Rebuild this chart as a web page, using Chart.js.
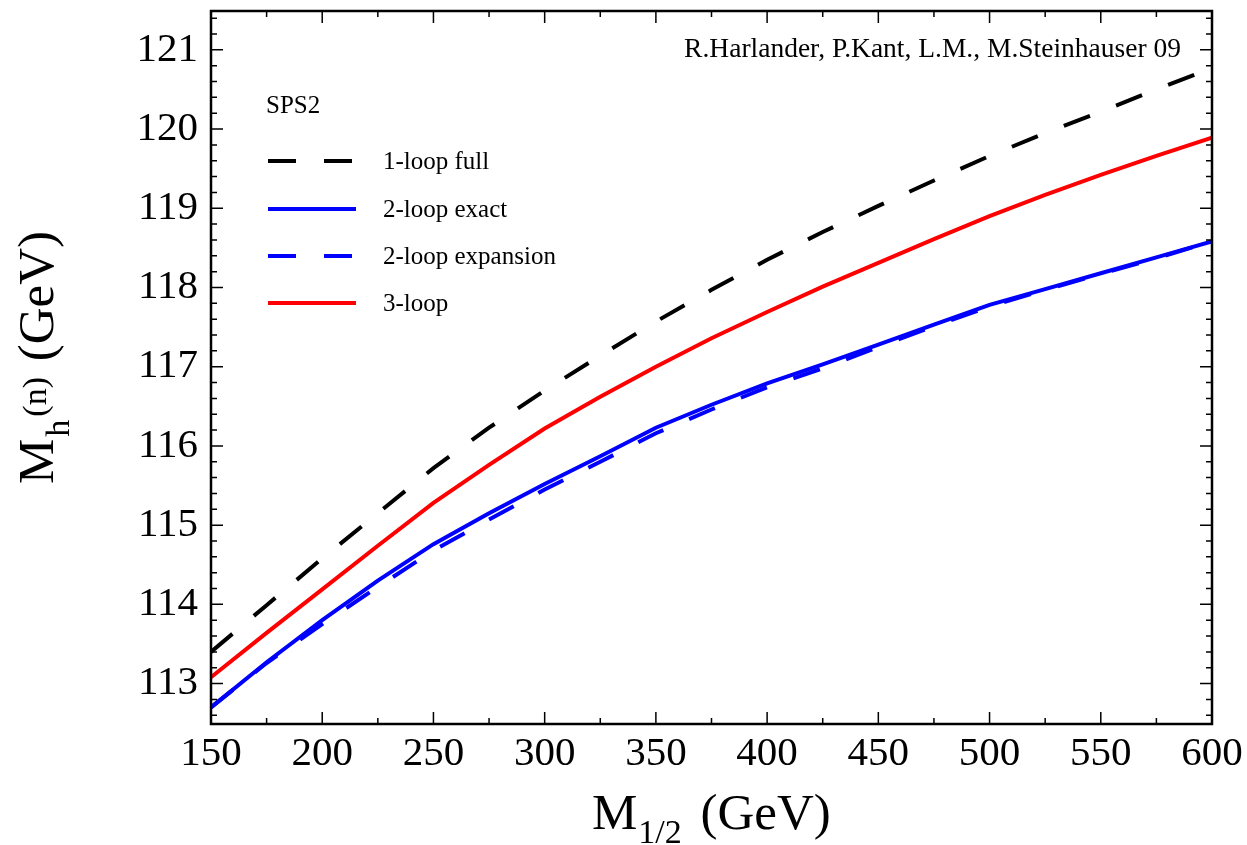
<!DOCTYPE html>
<html>
<head>
<meta charset="utf-8">
<script src="https://cdn.jsdelivr.net/npm/chart.js@4.4.1/dist/chart.umd.min.js"></script>
<style>
  html, body { margin: 0; padding: 0; background: #fff; }
  #wrap { width: 1247px; height: 845px; }
</style>
</head>
<body>
<div id="wrap"><canvas id="mh"></canvas></div>
<script>
// M_1/2 in GeV
const m12 = [150, 175, 200, 225, 250, 275, 300, 325, 350, 375, 400, 425, 450, 475, 500, 525, 550, 575, 600];

// M_h in GeV
const oneLoopFull = [113.40, 113.99, 114.58, 115.15, 115.72, 116.23, 116.70, 117.14, 117.57, 117.97, 118.35, 118.70, 119.03, 119.35, 119.66, 119.95, 120.22, 120.50, 120.77];
const twoLoopExact = [112.70, 113.27, 113.80, 114.30, 114.76, 115.15, 115.52, 115.87, 116.23, 116.52, 116.79, 117.03, 117.28, 117.53, 117.78, 117.98, 118.18, 118.38, 118.58];
const twoLoopExpansion = [112.70, 113.26, 113.75, 114.22, 114.68, 115.07, 115.45, 115.80, 116.16, 116.46, 116.74, 116.98, 117.25, 117.51, 117.76, 117.97, 118.17, 118.37, 118.58];
const threeLoop = [113.08, 113.64, 114.19, 114.74, 115.28, 115.76, 116.22, 116.62, 117.00, 117.36, 117.69, 118.01, 118.31, 118.61, 118.90, 119.17, 119.42, 119.66, 119.89];

const yTicks = [113, 114, 115, 116, 117, 118, 119, 120, 121];
const xTicks = [150, 200, 250, 300, 350, 400, 450, 500, 550, 600];

const legendTitle = 'SPS2';
const credit = 'R.Harlander, P.Kant, L.M., M.Steinhauser 09';

const serif = '"Liberation Serif", "Times New Roman", serif';

const pts = ys => m12.map((x, i) => ({ x: x, y: ys[i] }));

function line(label, ys, color, dash) {
  return {
    label: label,
    data: pts(ys),
    borderColor: color,
    backgroundColor: color,
    borderWidth: 4,
    borderDash: dash,
    pointRadius: 0,
    tension: 0,
    fill: false
  };
}

// frame, inward ticks, legend and axis titles
const decor = {
  id: 'decor',
  afterDraw(chart) {
    const ctx = chart.ctx;
    const a = chart.chartArea;
    const xs = chart.scales.x, ys = chart.scales.y;
    ctx.save();
    ctx.strokeStyle = '#000';

    // ticks
    ctx.lineWidth = 1.5;
    ctx.beginPath();
    for (let v = 150; v <= 600; v += 25) {
      const px = xs.getPixelForValue(v);
      const len = v % 50 === 0 ? 12 : 6;
      ctx.moveTo(px, a.bottom); ctx.lineTo(px, a.bottom - len);
      ctx.moveTo(px, a.top); ctx.lineTo(px, a.top + len);
    }
    for (let k = 563; k <= 607; k++) {
      const v = k / 5;
      const py = ys.getPixelForValue(v);
      const len = k % 5 === 0 ? 12 : 6;
      ctx.moveTo(a.left, py); ctx.lineTo(a.left + len, py);
      ctx.moveTo(a.right, py); ctx.lineTo(a.right - len, py);
    }
    ctx.stroke();

    ctx.lineWidth = 2.5;
    ctx.strokeRect(a.left, a.top, a.right - a.left, a.bottom - a.top);

    // legend
    ctx.fillStyle = '#000';
    ctx.font = '25px ' + serif;
    ctx.textBaseline = 'middle';
    ctx.textAlign = 'left';
    ctx.fillText(legendTitle, 266, 106);
    const rows = [161, 209, 256, 303];
    chart.data.datasets.forEach((d, i) => {
      ctx.beginPath();
      ctx.lineWidth = 4;
      ctx.strokeStyle = d.borderColor;
      ctx.setLineDash(d.borderDash || []);
      ctx.moveTo(268, rows[i]);
      ctx.lineTo(356, rows[i]);
      ctx.stroke();
      ctx.setLineDash([]);
      ctx.fillText(d.label, 383, rows[i] + 1);
    });

    ctx.font = '27.5px ' + serif;
    ctx.textAlign = 'right';
    ctx.fillText(credit, 1181, 50);

    // x title: M_{1/2} (GeV)
    ctx.textAlign = 'left';
    ctx.textBaseline = 'alphabetic';
    let x = 592;
    ctx.font = '51px ' + serif;
    ctx.fillText('M', x, 829);
    x += ctx.measureText('M').width + 1;
    ctx.font = '34px ' + serif;
    ctx.fillText('1/2', x, 843);
    x += ctx.measureText('1/2').width + 6;
    ctx.font = '51px ' + serif;
    ctx.fillText(' (GeV)', x, 829);

    // y title: M_h^{(n)} (GeV), rotated
    ctx.translate(53, 484);
    ctx.rotate(-Math.PI / 2);
    x = 0;
    ctx.font = '51px ' + serif;
    ctx.fillText('M', x, 0);
    x += ctx.measureText('M').width + 2;
    ctx.font = '34px ' + serif;
    ctx.fillText('h', x, 16);
    x += ctx.measureText('h').width + 3;
    ctx.fillText('(n)', x, -7);
    x += ctx.measureText('(n)').width + 3;
    ctx.font = '51px ' + serif;
    ctx.fillText(' (GeV)', x, 0);

    ctx.restore();
  }
};

new Chart(document.getElementById('mh'), {
  type: 'line',
  data: {
    datasets: [
      line('1-loop full', oneLoopFull, '#000000', [28, 28]),
      line('2-loop exact', twoLoopExact, '#0000ff', []),
      line('2-loop expansion', twoLoopExpansion, '#0000ff', [28, 28]),
      line('3-loop', threeLoop, '#ff0000', [])
    ]
  },
  options: {
    responsive: true,
    maintainAspectRatio: false,
    animation: false,
    layout: { padding: { top: 11, right: 35, bottom: 0, left: 0 } },
    plugins: {
      legend: { display: false },
      tooltip: { enabled: false }
    },
    scales: {
      x: {
        type: 'linear',
        min: 150,
        max: 600,
        grid: { display: false, drawTicks: false },
        border: { display: false },
        afterBuildTicks: s => { s.ticks = xTicks.map(v => ({ value: v })); },
        afterFit: s => { s.height = 121; s.paddingLeft = 0; s.paddingRight = 0; },
        ticks: {
          color: '#000',
          padding: 6,
          maxRotation: 0,
          font: { family: serif, size: 41 }
        }
      },
      y: {
        type: 'linear',
        min: 112.49,
        max: 121.49,
        grid: { display: false, drawTicks: false },
        border: { display: false },
        afterBuildTicks: s => { s.ticks = yTicks.map(v => ({ value: v })); },
        afterFit: s => { s.width = 211; s.paddingTop = 0; s.paddingBottom = 0; },
        ticks: {
          color: '#000',
          padding: 13,
          font: { family: serif, size: 41 },
          callback: v => String(v)
        }
      }
    }
  },
  plugins: [decor]
});
</script>
</body>
</html>
